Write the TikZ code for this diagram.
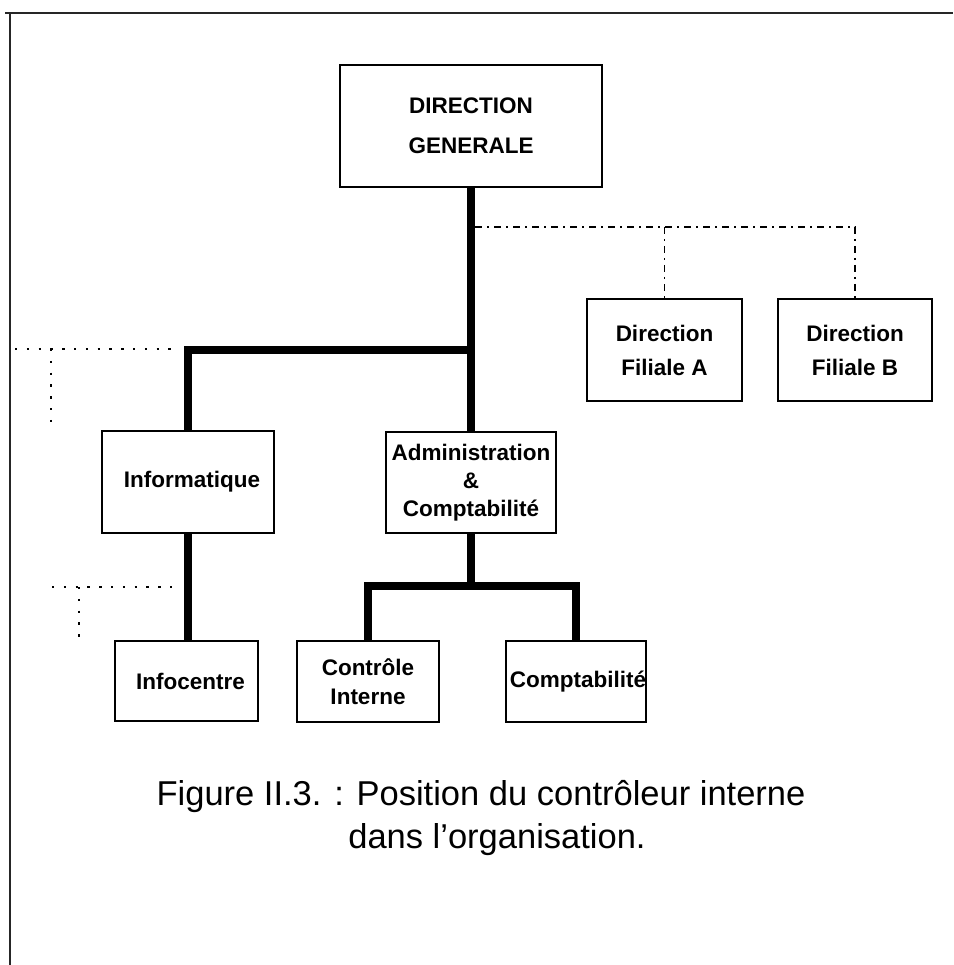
\documentclass[tikz,border=0pt]{standalone}
\usepackage{fontspec}
\setmainfont{Liberation Sans}
\newcommand{\boxfont}{\fontsize{22.5}{27}\selectfont\bfseries}
\newcommand{\capfont}{\fontsize{34.5}{45}\selectfont}
\tikzset{
  box/.style={draw, line width=1.4pt, inner sep=0pt, align=center, font=\boxfont},
  trunk/.style={line width=7.5pt},
  dashdot/.style={line width=1.3pt, dash pattern=on 7pt off 5pt on 2pt off 5pt},
  dotline/.style={line width=2.3pt, dash pattern=on 2.3pt off 9.5pt},
  frameline/.style={line width=1.5pt, black!85}
}
\begin{document}
\begin{tikzpicture}[x=1pt, y=-1pt]
\useasboundingbox (0,0) rectangle (953,965);

% frame (top and left edges)
\draw[frameline] (5,13) -- (953,13);
\draw[frameline] (10,13) -- (10,965);

% boxes
\node[box, minimum width=262pt, minimum height=122pt] (dg) at (471,126) {DIRECTION\\[13pt]GENERALE};
\node[box, minimum width=155pt, minimum height=102pt] (filA) at (664.5,350) {Direction\\[7pt]Filiale A};
\node[box, minimum width=154pt, minimum height=102pt] (filB) at (855,350) {Direction\\[7pt]Filiale B};
\node[box, minimum width=172pt, minimum height=102pt] (info) at (188,482) {\hspace*{8pt}Informatique};
\node[box, minimum width=170pt, minimum height=101pt] (admin) at (471,482.5) {Administration\\[1pt]\&\\[1pt]Comptabilité};
\node[box, minimum width=143pt, minimum height=80pt] (infoc) at (186.5,681) {\hspace*{8pt}Infocentre};
\node[box, minimum width=142pt, minimum height=81pt] (ctrl) at (368,681.5) {Contrôle\\[2pt]Interne};
\node[box, minimum width=140pt, minimum height=81pt] (compta) at (576,681.5) {\hspace*{4pt}Comptabilité};

% hierarchy links
\coordinate (j0) at (471,227);
\coordinate (j1) at (471,350);
\coordinate (j2) at (471,586);
\draw[trunk] (dg.south) -- (admin.north);
\draw[trunk] (j1) -| (info.north);
\draw[trunk] (info.south) -- (info.south |- infoc.north);
\draw[trunk] (admin.south) -- (j2);
\draw[trunk] (ctrl.north) |- (j2) -| (compta.north);

% subsidiaries
\draw[dashdot] ([xshift=4pt]j0) -- (filB.north |- j0) -- (filB.north);
\draw[dashdot] (filA.north |- j0) -- (filA.north);

% dotted staff links
\coordinate (d1a) at (15,349);
\coordinate (d1b) at (175,349);
\coordinate (d1c) at (51,349);
\coordinate (d1d) at (51,431);
\coordinate (d2a) at (52,587);
\coordinate (d2b) at (175,587);
\coordinate (d2c) at (79,587);
\coordinate (d2d) at (79,640);
\draw[dotline] (d1a) -- (d1b);
\draw[dotline] (d1c) -- (d1d);
\draw[dotline] (d2a) -- (d2b);
\draw[dotline] (d2c) -- (d2d);

% caption
\node[font=\capfont] (cap1) at (481,797) {Figure II.3. : Position du contrôleur interne};
\node[font=\capfont] (cap2) at (497,840) {dans l’organisation.};
\end{tikzpicture}
\end{document}
